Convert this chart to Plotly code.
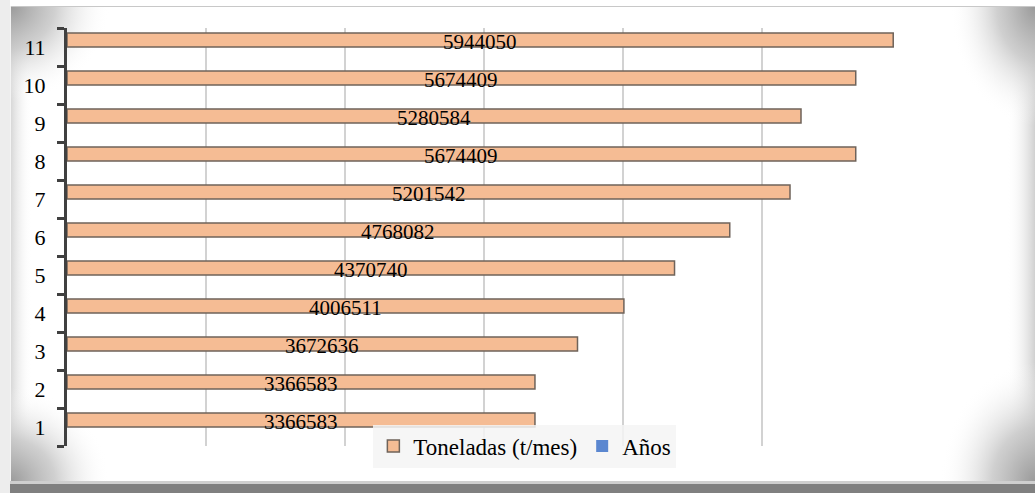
import base64
import plotly.graph_objects as go

# Monthly tonnage per period
periodos = ["1", "2", "3", "4", "5", "6", "7", "8", "9", "10", "11"]
toneladas = [3366583, 3366583, 3672636, 4006511, 4370740, 4768082,
             5201542, 5674409, 5280584, 5674409, 5944050]
anios = [0, 0, 0, 0, 0, 0, 0, 0, 0, 0, 0]

W, H = 1035, 493
L, R, T, B = 67, 134, 28, 47
PW, PH = W - L - R, H - T - B

SERIF = "Liberation Serif"


def corner(gid, cx, cy, rx, ry):
    return (f'<radialGradient id="{gid}" gradientUnits="userSpaceOnUse" cx="0" cy="0" r="1" '
            f'gradientTransform="matrix({rx} 0 0 {ry} {cx} {cy})">'
            '<stop offset="0" stop-color="#9a9a9a" stop-opacity="1"/>'
            '<stop offset="0.45" stop-color="#c4c4c4" stop-opacity="0.8"/>'
            '<stop offset="1" stop-color="#ffffff" stop-opacity="0"/>'
            '</radialGradient>')


# Framed chart-area backdrop: shaded corners and soft side edges
fx0, fy0, fx1, fy1 = 10, 6, W, 482
svg = f'''<svg xmlns="http://www.w3.org/2000/svg" width="{W}" height="{H}" viewBox="0 0 {W} {H}">
<defs>
{corner("tl", fx0, fy0, 100, 95)}
{corner("bl", fx0, fy1, 100, 95)}
{corner("tr", fx1, fy0, 85, 120)}
{corner("br", fx1, fy1, 95, 120)}
<linearGradient id="le" x1="0" y1="0" x2="1" y2="0">
<stop offset="0" stop-color="#d4d4d4" stop-opacity="1"/>
<stop offset="1" stop-color="#ffffff" stop-opacity="0"/>
</linearGradient>
<linearGradient id="re" x1="1" y1="0" x2="0" y2="0">
<stop offset="0" stop-color="#d0d0d0" stop-opacity="1"/>
<stop offset="1" stop-color="#ffffff" stop-opacity="0"/>
</linearGradient>
</defs>
<rect x="0" y="0" width="{W}" height="{H}" fill="#ffffff"/>
<rect x="0" y="0" width="{fx0}" height="{H}" fill="#ededed"/>
<rect x="{fx0}" y="{fy0}" width="22" height="{fy1-fy0}" fill="url(#le)"/>
<rect x="{fx1-28}" y="{fy0}" width="28" height="{fy1-fy0}" fill="url(#re)"/>
<rect x="{fx0}" y="{fy0}" width="{fx1-fx0}" height="{fy1-fy0}" fill="url(#tl)"/>
<rect x="{fx0}" y="{fy0}" width="{fx1-fx0}" height="{fy1-fy0}" fill="url(#bl)"/>
<rect x="{fx0}" y="{fy0}" width="{fx1-fx0}" height="{fy1-fy0}" fill="url(#tr)"/>
<rect x="{fx0}" y="{fy0}" width="{fx1-fx0}" height="{fy1-fy0}" fill="url(#br)"/>
<line x1="{fx0}" y1="6.5" x2="{W}" y2="6.5" stroke="#c8c8c8" stroke-width="1"/>
<line x1="10.5" y1="{fy0}" x2="10.5" y2="{fy1}" stroke="#f4f4f4" stroke-width="1"/>
<rect x="{fx0}" y="481" width="{W-fx0}" height="3" fill="#cfcfcf"/>
<rect x="{fx0}" y="484" width="{W-fx0}" height="9" fill="#808080"/>
</svg>'''
bg_src = "data:image/svg+xml;base64," + base64.b64encode(svg.encode()).decode()

fig = go.Figure()

# "Años" comes first so it sits in the lower slot of each group
fig.add_trace(go.Bar(
    y=periodos, x=anios, orientation="h", name="Años",
    marker=dict(color="#5b87d0", line=dict(width=0)),
    legendrank=2, hoverinfo="skip",
))
fig.add_trace(go.Bar(
    y=periodos, x=toneladas, orientation="h", name="Toneladas (t/mes)",
    marker=dict(color="#f5bc94", line=dict(color="#6f635a", width=1.5)),
    legendrank=1,
))

# Value labels centred on each tonnage bar (category index positions)
for i, v in enumerate(toneladas):
    fig.add_annotation(
        x=v / 2, y=i, xref="x", yref="y", text=str(v), showarrow=False,
        yshift=5, font=dict(family=SERIF, size=21, color="#000000"),
    )

fig.update_layout(
    width=W, height=H,
    margin=dict(l=L, r=R, t=T, b=B, pad=0),
    paper_bgcolor="#ffffff",
    plot_bgcolor="rgba(0,0,0,0)",
    barmode="group", bargap=0.263, bargroupgap=0,
    font=dict(family=SERIF, color="#000000"),
    showlegend=True,
    legend=dict(
        orientation="h", x=0.549, y=0, xanchor="center", yanchor="middle",
        bgcolor="rgba(244,244,244,0.85)", borderwidth=0,
        font=dict(family=SERIF, size=23, color="#000000"),
        itemwidth=30, traceorder="normal",
    ),
    xaxis=dict(
        range=[0, 6000000], dtick=1000000, showticklabels=False,
        showgrid=True, gridcolor="#d2d2d2", gridwidth=1.5,
        zeroline=False, showline=False, ticks="",
    ),
    yaxis=dict(
        type="category", categoryorder="array", categoryarray=periodos,
        range=[-0.5, len(periodos) - 0.5],
        showline=True, linecolor="#404040", linewidth=3,
        ticks="outside", tickson="boundaries", ticklen=7, tickwidth=3,
        tickcolor="#404040", ticklabelstandoff=14,
        showgrid=False, zeroline=False,
        tickfont=dict(family=SERIF, size=22, color="#000000"),
    ),
    images=[dict(
        source=bg_src, xref="paper", yref="paper",
        x=-L / PW, y=1 + T / PH, sizex=W / PW, sizey=H / PH,
        xanchor="left", yanchor="top", sizing="stretch", layer="below",
    )],
)

fig.write_html("out.html")
